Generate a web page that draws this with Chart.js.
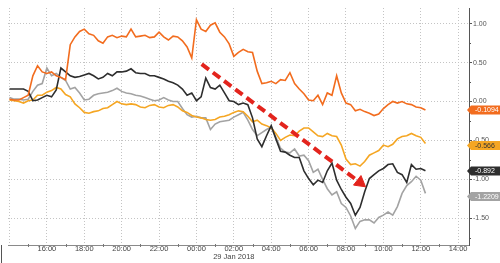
<!DOCTYPE html>
<html>
<head>
<meta charset="utf-8">
<script src="https://cdn.jsdelivr.net/npm/chart.js@4.4.1/dist/chart.umd.min.js"></script>
<style>
  html, body { margin: 0; padding: 0; background: #fff; }
  canvas { display: block; }
</style>
</head>
<body>
<canvas id="chart" width="500" height="263"></canvas>
<script>
// hours since midnight of 28 Jan (24 = 00:00 on 29 Jan), 15 min steps
const hours = [
  14, 14.25, 14.5, 14.75, 15, 15.25, 15.5, 15.75, 16, 16.25, 16.5, 16.75,
  17, 17.25, 17.5, 17.75, 18, 18.25, 18.5, 18.75, 19, 19.25, 19.5, 19.75,
  20, 20.25, 20.5, 20.75, 21, 21.25, 21.5, 21.75, 22, 22.25, 22.5, 22.75,
  23, 23.25, 23.5, 23.75, 24, 24.25, 24.5, 24.75, 25, 25.25, 25.5, 25.75,
  26, 26.25, 26.5, 26.75, 27, 27.25, 27.5, 27.75, 28, 28.25, 28.5, 28.75,
  29, 29.25, 29.5, 29.75, 30, 30.25, 30.5, 30.75, 31, 31.25, 31.5, 31.75,
  32, 32.25, 32.5, 32.75, 33, 33.25, 33.5, 33.75, 34, 34.25, 34.5, 34.75,
  35, 35.25, 35.5, 35.75, 36, 36.25
];

const orangeVals = [
  0.03, 0.02, 0.02, 0.05, 0.08, 0.33, 0.46, 0.38, 0.36, 0.38, 0.33, 0.31,
  0.28, 0.73, 0.83, 0.90, 0.93, 0.87, 0.85, 0.78, 0.75, 0.83, 0.85, 0.82,
  0.84, 0.83, 0.93, 0.83, 0.84, 0.85, 0.82, 0.83, 0.89, 0.83, 0.79, 0.84,
  0.83, 0.78, 0.70, 0.56, 1.05, 0.93, 0.90, 0.98, 1.01, 0.89, 0.83, 0.74,
  0.58, 0.63, 0.67, 0.64, 0.63, 0.39, 0.23, 0.24, 0.26, 0.23, 0.28, 0.27,
  0.37, 0.23, 0.16, 0.10, 0.02, 0.01, 0.08, -0.04, 0.11, 0.08, 0.33, 0.11,
  -0.02, -0.04, -0.12, -0.10, -0.13, -0.15, -0.18, -0.16, -0.09, -0.04, -0.00, -0.02,
  -0.00, -0.03, -0.04, -0.07, -0.08, -0.11
];

const yellowVals = [
  0.02, 0.01, -0.00, -0.02, 0.01, 0.02, 0.08, 0.08, 0.12, 0.14, 0.18, 0.16,
  0.09, 0.06, -0.03, -0.08, -0.14, -0.15, -0.13, -0.12, -0.09, -0.08, -0.04, -0.00,
  -0.03, -0.04, -0.03, -0.04, -0.07, -0.08, -0.05, -0.04, -0.07, -0.08, -0.05, -0.04,
  -0.07, -0.12, -0.14, -0.18, -0.20, -0.21, -0.23, -0.24, -0.23, -0.20, -0.19, -0.17,
  -0.14, -0.12, -0.13, -0.19, -0.26, -0.24, -0.29, -0.31, -0.34, -0.41, -0.50, -0.46,
  -0.43, -0.44, -0.38, -0.34, -0.34, -0.39, -0.44, -0.45, -0.41, -0.44, -0.45, -0.56,
  -0.74, -0.81, -0.80, -0.83, -0.77, -0.69, -0.66, -0.63, -0.56, -0.58, -0.55, -0.48,
  -0.45, -0.44, -0.41, -0.44, -0.46, -0.54
];

const blackVals = [
  0.16, 0.16, 0.16, 0.16, 0.13, 0.01, 0.02, 0.05, 0.08, 0.06, 0.15, 0.43,
  0.38, 0.33, 0.31, 0.32, 0.34, 0.36, 0.33, 0.29, 0.31, 0.36, 0.33, 0.38,
  0.38, 0.39, 0.42, 0.37, 0.36, 0.36, 0.33, 0.33, 0.31, 0.29, 0.26, 0.24,
  0.21, 0.16, 0.08, 0.11, 0.01, 0.06, 0.30, 0.18, 0.16, 0.21, 0.11, 0.01,
  -0.00, -0.04, -0.02, -0.04, -0.21, -0.48, -0.58, -0.44, -0.31, -0.48, -0.64, -0.65,
  -0.69, -0.72, -0.72, -0.89, -0.99, -1.07, -1.01, -1.04, -0.89, -0.79, -1.01, -1.13,
  -1.23, -1.31, -1.46, -1.36, -1.16, -0.99, -0.94, -0.89, -0.86, -0.81, -0.80, -0.91,
  -0.94, -1.04, -0.81, -0.87, -0.86, -0.89
];

const grayVals = [
  0.05, 0.03, 0.03, 0.02, 0.03, 0.13, 0.21, 0.23, 0.43, 0.33, 0.36, 0.31,
  0.27, 0.16, 0.18, 0.11, 0.02, 0.03, 0.08, 0.10, 0.11, 0.12, 0.14, 0.17,
  0.13, 0.11, 0.10, 0.08, 0.07, 0.05, 0.03, 0.01, 0.02, 0.05, 0.02, -0.00,
  -0.00, -0.09, -0.17, -0.20, -0.19, -0.21, -0.21, -0.36, -0.29, -0.26, -0.25, -0.24,
  -0.20, -0.17, -0.14, -0.24, -0.36, -0.44, -0.40, -0.36, -0.33, -0.46, -0.60, -0.65,
  -0.66, -0.61, -0.70, -0.69, -0.76, -0.91, -0.87, -1.00, -1.12, -1.20, -1.16, -1.31,
  -1.36, -1.47, -1.63, -1.54, -1.52, -1.52, -1.56, -1.49, -1.46, -1.42, -1.46, -1.35,
  -1.18, -1.08, -1.03, -0.96, -1.01, -1.18
];

// last values shown in the boxes on the right axis
const endValues = [-0.1094, -0.566, -0.892, -1.2209];
const endLabels = ['-0.1094', '-0.566', '-0.892', '-1.2209'];

// red dashed trend arrow (start, head)
const arrowX = [24.28, 32.75];
const arrowY = [0.48, -1.04];

const xTickValues = [14, 16, 18, 20, 22, 24, 26, 28, 30, 32, 34, 36, 38];
const xTickLabels = ['', '16:00', '18:00', '20:00', '22:00', '00:00', ['02:00', '29 Jan 2018'],
  '04:00', '06:00', '08:00', '10:00', '12:00', '14:00'];
const xMinorTicks = [15, 17, 19, 21, 23, 25, 27, 29, 31, 33, 35, 37];
const yTickValues = [1, 0.5, 0, -0.5, -1, -1.5];
const yMinorTicks = [0.75, 0.25, -0.25, -0.75, -1.25, -1.75];

const orange = '#f26c1e';
const yellow = '#f5a623';
const black = '#2e2e2e';
const gray = '#a3a3a3';
const red = '#e3241d';

function pts(vals) {
  return hours.map((h, i) => ({ x: h, y: vals[i] }));
}

const boxStyles = [
  { bg: orange, fg: '#fff' },
  { bg: yellow, fg: '#333' },
  { bg: black, fg: '#fff' },
  { bg: gray, fg: '#fff' }
];

const extras = {
  id: 'extras',
  afterDraw(chart) {
    const ctx = chart.ctx;
    const xs = chart.scales.x, ys = chart.scales.y;
    const area = chart.chartArea;
    ctx.save();
    // minor ticks on the time axis
    ctx.strokeStyle = '#777';
    ctx.lineWidth = 1;
    xMinorTicks.forEach(v => {
      const px = Math.round(xs.getPixelForValue(v)) + 0.5;
      ctx.beginPath();
      ctx.moveTo(px, area.bottom - 1);
      ctx.lineTo(px, area.bottom + 2);
      ctx.stroke();
    });
    // day separator at the left
    ctx.strokeStyle = '#555';
    ctx.beginPath();
    ctx.moveTo(1.5, area.bottom);
    ctx.lineTo(1.5, chart.height);
    ctx.stroke();
    // minor ticks on the value axis
    ctx.strokeStyle = '#555';
    yMinorTicks.forEach(v => {
      const py = Math.round(ys.getPixelForValue(v)) + 0.5;
      if (py > area.bottom) return;
      ctx.beginPath();
      ctx.moveTo(area.right, py);
      ctx.lineTo(area.right + 2, py);
      ctx.stroke();
    });
    // last value boxes
    ctx.font = '7px "Liberation Sans", Arial, sans-serif';
    ctx.textBaseline = 'middle';
    ctx.textAlign = 'left';
    endValues.forEach((v, i) => {
      const cy = ys.getPixelForValue(v);
      const x0 = area.right + 1;
      ctx.fillStyle = boxStyles[i].bg;
      ctx.beginPath();
      ctx.moveTo(x0 - 3, cy);
      ctx.lineTo(x0 + 1, cy - 4.5);
      ctx.lineTo(500, cy - 4.5);
      ctx.lineTo(500, cy + 4.5);
      ctx.lineTo(x0 + 1, cy + 4.5);
      ctx.closePath();
      ctx.fill();
      ctx.fillStyle = boxStyles[i].fg;
      ctx.fillText(endLabels[i], x0 + 5, cy + 0.5);
    });
    ctx.restore();
  }
};

new Chart(document.getElementById('chart'), {
  type: 'line',
  data: {
    datasets: [
      {
        label: 'trend',
        data: arrowX.map((x, i) => ({ x: x, y: arrowY[i] })),
        borderColor: red,
        backgroundColor: red,
        borderWidth: 4,
        borderDash: [9, 5],
        pointRadius: [0, 7],
        pointStyle: 'triangle',
        pointRotation: 128,
        pointBackgroundColor: red,
        pointBorderColor: red,
        pointBorderWidth: 1
      },
      { label: 'orange', data: pts(orangeVals), borderColor: orange, borderWidth: 1.6, pointRadius: 0 },
      { label: 'black', data: pts(blackVals), borderColor: black, borderWidth: 1.6, pointRadius: 0 },
      { label: 'yellow', data: pts(yellowVals), borderColor: yellow, borderWidth: 1.6, pointRadius: 0 },
      { label: 'gray', data: pts(grayVals), borderColor: gray, borderWidth: 1.6, pointRadius: 0 }
    ]
  },
  options: {
    responsive: false,
    animation: false,
    devicePixelRatio: 1,
    layout: { padding: 0 },
    plugins: { legend: { display: false }, tooltip: { enabled: false } },
    scales: {
      x: {
        type: 'linear',
        position: 'bottom',
        min: 13.92,
        max: 38.58,
        afterBuildTicks: s => { s.ticks = xTickValues.map(v => ({ value: v })); },
        afterFit: s => { s.height = 18; },
        grid: { color: '#c4c4c4', lineWidth: 1, drawTicks: false },
        border: { display: true, color: '#8a8a8a', width: 1, dash: [1, 2] },
        ticks: {
          autoSkip: false,
          maxRotation: 0,
          padding: 0,
          color: '#444',
          font: { family: '"Liberation Sans", Arial, sans-serif', size: 7.5, lineHeight: 1.1 },
          callback: (v, i) => xTickLabels[xTickValues.indexOf(v)]
        }
      },
      y: {
        type: 'linear',
        position: 'right',
        min: -1.843,
        max: 1.201,
        afterBuildTicks: s => { s.ticks = yTickValues.map(v => ({ value: v })); },
        afterFit: s => { s.width = 31; },
        grid: { color: '#c4c4c4', lineWidth: 1, drawTicks: true, tickLength: 3, tickColor: '#555', tickBorderDash: [] },
        border: { display: true, color: '#555', width: 1, dash: [1, 2] },
        ticks: {
          padding: 1,
          color: '#555',
          font: { family: '"Liberation Sans", Arial, sans-serif', size: 7 },
          callback: v => v.toFixed(2)
        }
      }
    }
  },
  plugins: [extras]
});
</script>
</body>
</html>
